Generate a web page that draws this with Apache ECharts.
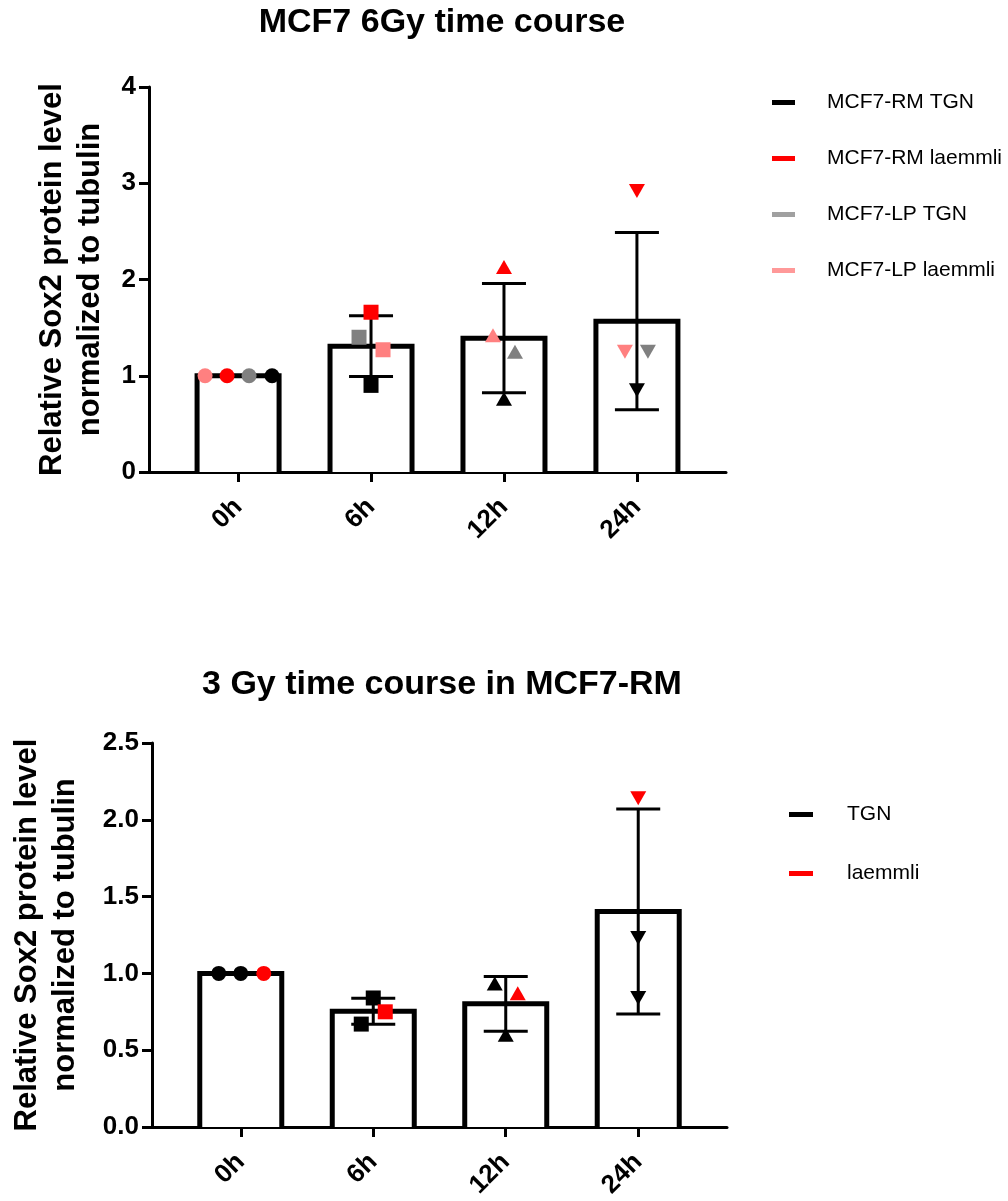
<!DOCTYPE html>
<html>
<head>
<meta charset="utf-8">
<script src="https://cdn.jsdelivr.net/npm/echarts@6/dist/echarts.min.js"></script>
<style>
  html, body { margin: 0; padding: 0; background: #fff; }
  #chart { width: 1008px; height: 1201px; }
</style>
</head>
<body>
<div id="chart"></div>
<script>
// Time points shared by both experiments
const timepoints = ['0h', '6h', '12h', '24h'];

// MCF7 6Gy time course: one replicate per condition and time point
const rmTgn6Gy = [1.00, 0.90, 0.76, 0.85];
const rmLaemmli6Gy = [1.00, 1.66, 2.13, 2.92];
const lpTgn6Gy = [1.00, 1.40, 1.25, 1.25];
const lpLaemmli6Gy = [1.00, 1.27, 1.42, 1.25];
const yTicks6Gy = [0, 1, 2, 3, 4];

// 3 Gy time course in MCF7-RM: two TGN replicates and one laemmli
const tgnA3Gy = [1.00, 0.84, 0.935, 1.23];
const tgnB3Gy = [1.00, 0.67, 0.60, 0.84];
const laemmli3Gy = [1.00, 0.75, 0.87, 2.14];
const yTicks3Gy = [0, 0.5, 1.0, 1.5, 2.0, 2.5];

const FONT = "'Liberation Sans', Arial, sans-serif";

// mean and sample SD for each time point across the replicate arrays
function stats(groups) {
  return timepoints.map((_, i) => {
    const vals = groups.map(g => g[i]);
    const n = vals.length;
    const mean = vals.reduce((a, b) => a + b, 0) / n;
    const sd = n > 1 ? Math.sqrt(vals.reduce((a, b) => a + (b - mean) * (b - mean), 0) / (n - 1)) : 0;
    return { mean, sd };
  });
}

const stats6Gy = stats([rmTgn6Gy, rmLaemmli6Gy, lpTgn6Gy, lpLaemmli6Gy]);
const stats3Gy = stats([tgnA3Gy, tgnB3Gy, laemmli3Gy]);

// open-topped bar outline (no bottom edge), white fill
function renderBar(params, api) {
  const x = api.value(0), y = api.value(1);
  const top = api.coord([x, y]);
  const base = api.coord([x, 0]);
  const hw = 41;
  return {
    type: 'group',
    children: [
      { type: 'rect', shape: { x: top[0] - hw, y: top[1], width: 2 * hw, height: base[1] - top[1] }, style: { fill: '#fff' } },
      { type: 'polyline',
        shape: { points: [[top[0] - hw, base[1]], [top[0] - hw, top[1]], [top[0] + hw, top[1]], [top[0] + hw, base[1]]] },
        style: { stroke: '#000', lineWidth: 5, fill: null, lineJoin: 'miter' } }
    ]
  };
}

// mean ± SD whisker with caps
function renderError(params, api) {
  const x = api.value(0), lo = api.value(1), hi = api.value(2);
  const a = api.coord([x, hi]);
  const b = api.coord([x, lo]);
  const cw = 22;
  const st = { stroke: '#000', lineWidth: 3 };
  return {
    type: 'group',
    children: [
      { type: 'line', shape: { x1: a[0], y1: a[1], x2: b[0], y2: b[1] }, style: st },
      { type: 'line', shape: { x1: a[0] - cw, y1: a[1], x2: a[0] + cw, y2: a[1] }, style: st },
      { type: 'line', shape: { x1: b[0] - cw, y1: b[1], x2: b[0] + cw, y2: b[1] }, style: st }
    ]
  };
}

const markerShapes = ['circle', 'rect', 'triangle', 'triangle'];
const markerRotate = [0, 0, 0, 180];
const markerSizes = [[15, 15], [15, 15], [16, 14], [16, 14]];

function points(values, offsets) {
  return values.map((v, i) => ({
    value: [i, v],
    symbol: markerShapes[i],
    symbolRotate: markerRotate[i],
    symbolSize: markerSizes[i],
    symbolOffset: [offsets[i], 0]
  }));
}

function scatterSeries(name, data, color, idx) {
  return {
    type: 'scatter', name, xAxisIndex: idx, yAxisIndex: idx, z: 5, silent: true,
    itemStyle: { color, opacity: 1 },
    data
  };
}

function barSeries(st, idx) {
  return {
    type: 'custom', xAxisIndex: idx, yAxisIndex: idx, z: 1, silent: true,
    renderItem: renderBar,
    encode: { x: 0, y: 1 },
    data: st.map((s, i) => [i, s.mean])
  };
}

function errorSeries(st, idx) {
  return {
    type: 'custom', xAxisIndex: idx, yAxisIndex: idx, z: 3, silent: true,
    renderItem: renderError,
    encode: { x: 0, y: [1, 2] },
    data: st.map((s, i) => [i, s.mean - s.sd, s.mean + s.sd])
  };
}

function xAxis(idx) {
  return {
    type: 'value', gridIndex: idx, min: -0.67, max: 3.67,
    splitLine: { show: false },
    axisLine: { show: true, onZero: false, lineStyle: { color: '#000', width: 3 } },
    axisTick: { show: true, length: 10, lineStyle: { color: '#000', width: 3 }, customValues: [0, 1, 2, 3] },
    axisLabel: {
      customValues: [0, 1, 2, 3],
      formatter: v => timepoints[Math.round(v)],
      rotate: 45, margin: 31,
      fontSize: 26, fontWeight: 'bold', color: '#000', fontFamily: FONT
    }
  };
}

function yAxis(idx, ticks, gap, digits) {
  return {
    type: 'value', gridIndex: idx,
    min: ticks[0], max: ticks[ticks.length - 1], interval: ticks[1] - ticks[0],
    splitLine: { show: false },
    axisLine: { show: true, onZero: false, lineStyle: { color: '#000', width: 3 } },
    axisTick: { show: true, length: 10, lineStyle: { color: '#000', width: 3 } },
    axisLabel: {
      margin: 13, fontSize: 26, fontWeight: 'bold', color: '#000', fontFamily: FONT,
      formatter: v => v.toFixed(digits)
    },
    name: 'Relative Sox2 protein level\nnormalized to tubulin',
    nameLocation: 'middle', nameGap: gap,
    nameTextStyle: { fontSize: 31, fontWeight: 'bold', color: '#000', fontFamily: FONT, lineHeight: 38, align: 'center' }
  };
}

const legendText = { fontSize: 21, color: '#000', fontFamily: FONT };

const option = {
  animation: false,
  backgroundColor: '#fff',
  title: [
    { text: 'MCF7 6Gy time course', left: 437, top: 1, textAlign: 'center',
      textStyle: { fontSize: 34, fontWeight: 'bold', color: '#000', fontFamily: FONT } },
    { text: '3 Gy time course in MCF7-RM', left: 437, top: 663, textAlign: 'center',
      textStyle: { fontSize: 34, fontWeight: 'bold', color: '#000', fontFamily: FONT } }
  ],
  legend: [
    {
      orient: 'vertical', left: 767, top: 87, icon: 'rect', itemWidth: 23, itemHeight: 5, itemGap: 35,
      selectedMode: false,
      textStyle: Object.assign({ padding: [0, 0, 0, 27] }, legendText),
      data: [
        { name: 'MCF7-RM TGN', itemStyle: { color: '#000' } },
        { name: 'MCF7-RM laemmli', itemStyle: { color: '#ff0000' } },
        { name: 'MCF7-LP TGN', itemStyle: { color: '#a0a0a0' } },
        { name: 'MCF7-LP laemmli', itemStyle: { color: '#ff9999' } }
      ]
    },
    {
      orient: 'vertical', left: 784, top: 799, icon: 'rect', itemWidth: 24, itemHeight: 5, itemGap: 38,
      selectedMode: false,
      textStyle: Object.assign({ padding: [0, 0, 0, 29] }, legendText),
      data: [
        { name: 'TGN', itemStyle: { color: '#000' } },
        { name: 'laemmli', itemStyle: { color: '#ff0000' } }
      ]
    }
  ],
  grid: [
    { left: 149, top: 87, width: 577, height: 385 },
    { left: 150, top: 743, width: 577, height: 384 }
  ],
  xAxis: [xAxis(0), xAxis(1)],
  yAxis: [yAxis(0, yTicks6Gy, 40, 0), yAxis(1, yTicks3Gy, 68, 1)],
  series: [
    barSeries(stats6Gy, 0),
    errorSeries(stats6Gy, 0),
    scatterSeries('MCF7-LP laemmli', points(lpLaemmli6Gy, [-33, 12, -11, -12]), '#ff8080', 0),
    scatterSeries('MCF7-RM laemmli', points(rmLaemmli6Gy, [-11, 0, 0, 0]), '#ff0000', 0),
    scatterSeries('MCF7-LP TGN', points(lpTgn6Gy, [11, -12, 11, 11]), '#808080', 0),
    scatterSeries('MCF7-RM TGN', points(rmTgn6Gy, [34, 0, 0, 0]), '#000', 0),

    barSeries(stats3Gy, 1),
    errorSeries(stats3Gy, 1),
    scatterSeries('TGN', points(tgnA3Gy, [-22, 0, -11, 0]).concat(points(tgnB3Gy, [0, -12, 0, 0])), '#000', 1),
    scatterSeries('laemmli', points(laemmli3Gy, [23, 12, 12, 0]), '#ff0000', 1)
  ]
};

const chart = echarts.init(document.getElementById('chart'), null, { renderer: 'canvas' });
chart.setOption(option);
</script>
</body>
</html>
